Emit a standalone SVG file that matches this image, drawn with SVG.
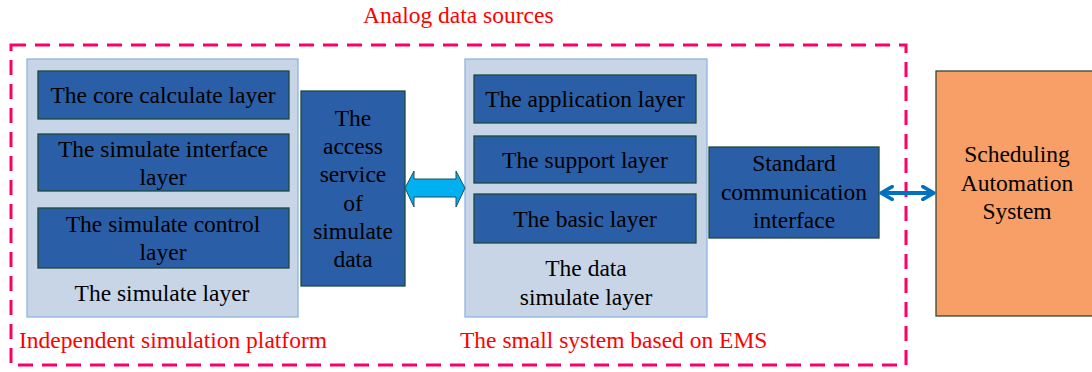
<svg xmlns="http://www.w3.org/2000/svg" width="1092" height="372" viewBox="0 0 1092 372">
<style>
text{font-family:'Liberation Serif','Times New Roman',serif;font-size:23.5px;fill:#000;text-anchor:middle}
.red{fill:#FF0000;text-anchor:start}
.panel{fill:#C8D5E6;stroke:#8EB4E3;stroke-width:1.3}
.blue{fill:#2A5EA7;stroke:#1E4A3C;stroke-width:1.3}
.frame{fill:none;stroke:#FF0066;stroke-width:3;stroke-dasharray:15 9}
</style>
<defs>
<marker id="chev" viewBox="0 0 10 10" refX="8" refY="5" markerWidth="4" markerHeight="4" orient="auto-start-reverse" markerUnits="strokeWidth">
<path d="M1,1 L8,5 L1,9" fill="none" stroke="#0070C0" stroke-width="2.2" stroke-linecap="round" stroke-linejoin="round"/>
</marker>
</defs>
<rect class="frame" x="11" y="45" width="895" height="320"/>
<text class="red" x="363" y="23">Analog data sources</text>
<text class="red" x="19" y="348">Independent simulation platform</text>
<text class="red" x="460" y="348">The small system based on EMS</text>
<g id="simulate-layer">
<rect class="panel" x="27" y="59" width="271" height="258"/>
<text x="162" y="301">The simulate layer</text>
</g>
<g id="core-calculate">
<rect class="blue" x="38" y="71" width="251" height="48"/>
<text x="163" y="103">The core calculate layer</text>
</g>
<g id="simulate-interface">
<rect class="blue" x="38" y="134" width="251" height="57"/>
<text x="163" y="157">The simulate interface</text>
<text x="163" y="185">layer</text>
</g>
<g id="simulate-control">
<rect class="blue" x="38" y="208" width="251" height="60"/>
<text x="163" y="232">The simulate control</text>
<text x="163" y="260">layer</text>
</g>
<g id="access-service">
<rect class="blue" x="301" y="91" width="104" height="195"/>
<text x="353" y="126">The</text>
<text x="353" y="154">access</text>
<text x="353" y="182">service</text>
<text x="353" y="211">of</text>
<text x="353" y="239">simulate</text>
<text x="353" y="267">data</text>
</g>
<g id="data-simulate-layer">
<rect class="panel" x="465" y="59" width="242" height="258"/>
<text x="586" y="276">The data</text>
<text x="586" y="305">simulate layer</text>
</g>
<g id="application">
<rect class="blue" x="474" y="75" width="222" height="48"/>
<text x="585" y="107">The application layer</text>
</g>
<g id="support">
<rect class="blue" x="474" y="136" width="222" height="47"/>
<text x="585" y="168">The support layer</text>
</g>
<g id="basic">
<rect class="blue" x="474" y="194" width="222" height="49"/>
<text x="585" y="227">The basic layer</text>
</g>
<g id="standard-interface">
<rect class="blue" x="709" y="147" width="170" height="91"/>
<text x="794" y="171">Standard</text>
<text x="794" y="200">communication</text>
<text x="794" y="228">interface</text>
</g>
<g id="scheduling">
<rect x="936" y="71" width="162" height="245" fill="#F79F66" stroke="#2E4A2E" stroke-width="1.3"/>
<text x="1017" y="162">Scheduling</text>
<text x="1017" y="191">Automation</text>
<text x="1017" y="219">System</text>
</g>
<g id="connectors">
<path d="M405,188 L414,171 L414,179 L456,179 L456,171 L465,188 L456,207 L456,197 L414,197 L414,207 Z" fill="#00B0F0" stroke="#1F4E5F" stroke-width="1"/>
<line x1="881" y1="193" x2="934" y2="193" stroke="#0070C0" stroke-width="4" marker-start="url(#chev)" marker-end="url(#chev)"/>
</g>
</svg>
